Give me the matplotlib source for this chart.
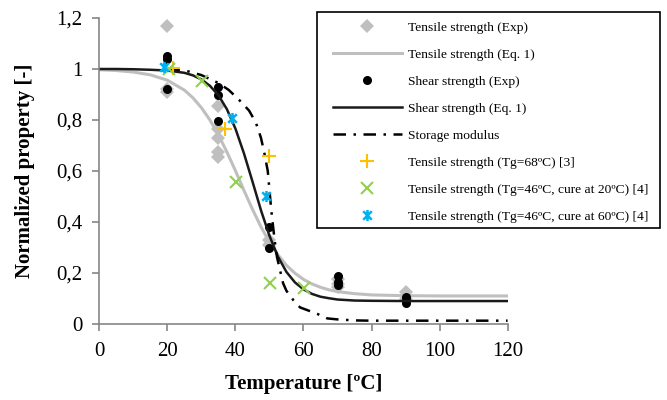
import matplotlib.pyplot as plt
from matplotlib.ticker import FuncFormatter, MultipleLocator
from matplotlib.path import Path
from matplotlib.patches import Rectangle

plt.rcParams['font.family'] = ['Liberation Serif', 'DejaVu Serif']

# experimental points
tens_exp_T = [20, 20, 20, 35, 35, 35, 35, 35, 50, 50, 70, 70, 70, 90, 90, 90]
tens_exp_v = [1.17, 0.92, 0.91, 0.856, 0.763, 0.731, 0.676, 0.656,
              0.33, 0.31, 0.175, 0.155, 0.145, 0.125, 0.11, 0.10]
shear_exp_T = [20, 20, 20, 35, 35, 35, 50, 50, 70, 70, 70, 90, 90, 90]
shear_exp_v = [1.05, 1.04, 0.92, 0.93, 0.898, 0.796, 0.382, 0.30,
               0.188, 0.166, 0.153, 0.107, 0.095, 0.081]
tg68_T = [21.5, 37, 50]
tg68_v = [1.003, 0.763, 0.66]
cure20_T = [20.5, 30.2, 40.2, 50.1, 60.1]
cure20_v = [1.0, 0.954, 0.558, 0.162, 0.14]
cure60_T = [19, 39.1, 48.9]
cure60_v = [1.007, 0.807, 0.502]

# curves
curve_T = [0, 5, 10, 15, 20, 25, 27.5, 30, 32.5, 35, 37.5, 40, 42.5, 45,
           47.5, 50, 52.5, 55, 57.5, 60, 62.5, 65, 67.5, 70, 75, 80, 90,
           100, 110, 120]
tens_eq = [0.997, 0.994, 0.988, 0.977, 0.956, 0.917, 0.887, 0.848, 0.800,
           0.742, 0.674, 0.601, 0.524, 0.450, 0.381, 0.321, 0.271, 0.230,
           0.199, 0.175, 0.157, 0.144, 0.134, 0.127, 0.119, 0.114, 0.111,
           0.110, 0.110, 0.110]
shear_eq = [1.0, 1.0, 0.999, 0.997, 0.994, 0.985, 0.975, 0.959, 0.934,
            0.897, 0.842, 0.766, 0.669, 0.559, 0.446, 0.346, 0.264, 0.204,
            0.163, 0.136, 0.118, 0.107, 0.101, 0.096, 0.092, 0.091, 0.090,
            0.090, 0.090, 0.090]
stor_T = [20, 25, 30, 35, 38, 41, 44, 46, 47.5, 48.5, 49.5, 50.5, 51.5,
          52.2, 54, 55, 57, 59, 62, 64, 67, 70, 75, 80, 90, 100, 110, 120]
stor_v = [1.0, 0.995, 0.976, 0.945, 0.918, 0.88, 0.837, 0.79, 0.73, 0.67,
          0.6, 0.45, 0.33, 0.263, 0.16, 0.13, 0.094, 0.065, 0.05, 0.04,
          0.022, 0.018, 0.014, 0.013, 0.013, 0.013, 0.013, 0.013]

# excel-like star: an x with a vertical bar
star = Path([(-1, -1), (1, 1), (-1, 1), (1, -1), (0, -1.3), (0, 1.3)],
            [Path.MOVETO, Path.LINETO] * 3)

fig = plt.figure(figsize=(6.67, 4.0), dpi=100)
ax = fig.add_axes([0.149, 0.19, 0.612, 0.765])

ax.plot(tens_exp_T, tens_exp_v, 'D', color='#bfbfbf', ms=7.5, mew=0,
        label='Tensile strength (Exp)')
ax.plot(curve_T, tens_eq, color='#bfbfbf', lw=2.2,
        label='Tensile strength (Eq. 1)')
ax.plot(shear_exp_T, shear_exp_v, 'o', color='black', ms=6.5, mew=0,
        label='Shear strength (Exp)')
ax.plot(curve_T, shear_eq, color='#1a1a1a', lw=1.8,
        label='Shear strength (Eq. 1)')
ax.plot(stor_T, stor_v, color='black', lw=1.8, dashes=(5, 3, 1, 3),
        label='Storage modulus')
ax.plot(tg68_T, tg68_v, '+', color='#ffc000', ms=10, mew=1.5,
        label='Tensile strength (Tg=68ºC) [3]')
ax.plot(cure20_T, cure20_v, 'x', color='#92d050', ms=8, mew=1.5,
        label='Tensile strength (Tg=46ºC, cure at 20ºC) [4]')
ax.plot(cure60_T, cure60_v, marker=star, ls='none', color='#00b0f0',
        ms=8, mew=1.8, label='Tensile strength (Tg=46ºC, cure at 60ºC) [4]')

ax.set_xlim(0, 120)
ax.set_ylim(0, 1.2)
ax.xaxis.set_major_locator(MultipleLocator(20))
ax.yaxis.set_major_locator(MultipleLocator(0.2))
ax.yaxis.set_major_formatter(FuncFormatter(
    lambda v, p: '{:g}'.format(round(v, 1)).replace('.', ',')))

for s in ['top', 'right']:
    ax.spines[s].set_visible(False)
for s in ['left', 'bottom']:
    ax.spines[s].set_color('#868686')
    ax.spines[s].set_linewidth(1.2)
ax.tick_params(direction='out', length=5, width=1.2, color='#868686',
               labelsize=15)
ax.tick_params(axis='x', pad=8)
ax.tick_params(axis='y', pad=7)

ax.set_xlabel('Temperature [ºC]', fontsize=15, fontweight='bold')
ax.set_ylabel('Normalized property [-]', fontsize=15, fontweight='bold')
ax.xaxis.set_label_coords(0.5, -0.163)
ax.yaxis.set_label_coords(-0.158, 0.5)

# legend box drawn on its own so the inner padding can match
box = Rectangle((0.4753, 0.43), 0.5142, 0.54, transform=fig.transFigure,
                facecolor='white', edgecolor='black', lw=1.2, zorder=4)
fig.patches.append(box)
leg = fig.legend(loc='upper left', bbox_to_anchor=(0.4993, 0.946),
                 borderaxespad=0, borderpad=0, fontsize=9.7,
                 handlelength=5.1, handletextpad=0.5, labelspacing=1.08,
                 frameon=False)
leg.set_zorder(5)

fig.savefig('out.png', dpi=100)
